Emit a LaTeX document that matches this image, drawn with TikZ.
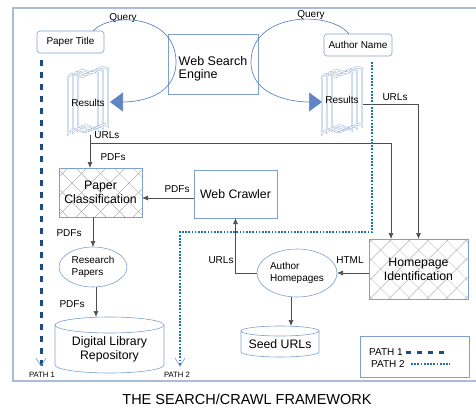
\documentclass[tikz,border=0pt]{standalone}
\usepackage{fontspec}
\setmainfont{Liberation Sans}
\usetikzlibrary{arrows.meta,calc,shapes.geometric}
\definecolor{boxc}{HTML}{7F9FCF}
\definecolor{loopc}{HTML}{5F86C2}
\definecolor{framec}{HTML}{A9BDD6}
\definecolor{linec}{HTML}{4D4D4D}
\definecolor{hatchc}{HTML}{9A9A9A}
\definecolor{path1c}{HTML}{1F4C85}
\definecolor{path2c}{HTML}{1D72AE}
\definecolor{vc}{HTML}{6E9FD6}
\tikzset{
  scrollpage/.style={draw=boxc, line width=0.35pt, double=white, double distance=1.1pt},
  pics/scroll/.style={code={
    \foreach \dx/\dy in {-5/2,0/0,5/-2}{
      \begin{scope}[shift={(\dx,\dy)}]
      \draw[scrollpage] (-15,-26) .. controls (-10,-34) and (-3,-22) .. (3,-28)
        .. controls (7,-32) and (11,-33) .. (15,-30) -- (15,27)
        .. controls (10,21) and (4,33) .. (-2,28)
        .. controls (-6,25) and (-11,26) .. (-15,31) -- cycle;
      \end{scope}
    }}}
}
\begin{document}
\begin{tikzpicture}[x=1pt,y=-1pt,
  every node/.style={inner sep=0pt, outer sep=0pt},
  lbl/.style={font=\fontsize{10}{12}\selectfont},
  big/.style={font=\fontsize{12.3}{14}\selectfont},
  rbox/.style={draw=boxc, rounded corners=3pt, line width=0.6pt, font=\fontsize{10}{12}\selectfont},
  sbox/.style={draw=boxc, line width=0.6pt},
  hatched/.style={draw=boxc, line width=0.6pt, path picture={
     \foreach \k in {-7,...,7}{
       \draw[hatchc, line width=0.35pt] ($(path picture bounding box.center)+(\k*19-80,-80)$) -- ++(160,160);
       \draw[hatchc, line width=0.35pt] ($(path picture bounding box.center)+(\k*19-80,80)$) -- ++(160,-160);
     }}},
  conn/.style={draw=linec, line width=0.7pt},
  arr/.style={conn, -{Latex[length=6pt,width=5pt]}},
  loop/.style={draw=loopc, line width=0.7pt, -{Triangle[length=13pt,width=19pt]}},
  path1/.style={draw=path1c, line width=3pt, dash pattern=on 6pt off 6pt},
  path2/.style={draw=path2c, line width=2.8pt, dash pattern=on 1.7pt off 1.5pt},
  vtip/.style={draw=vc, line width=0.6pt}
]
\useasboundingbox (0,0) rectangle (476,407);
% frame
\draw[framec, line width=1.2pt] (476,8) -- (13,8) -- (13,381) -- (476,381);

% boxes
\node[rbox, minimum width=67, minimum height=22] (ptitle) at (70.5,42) {Paper Title};
\node[sbox, minimum width=90, minimum height=60] (wse) at (213,64) {};
\node[font=\fontsize{12.5}{13.5}\selectfont, align=left] (wsetxt) at (213,69) {Web Search\\Engine};
\node[rbox, minimum width=68, minimum height=22] (aname) at (358,45) {Author Name};

\node[lbl] (q1) at (123,18) {Query};
\node[lbl] (q2) at (311,15) {Query};

\pic at (88,101) {scroll};
\pic at (342,101) {scroll};
\node[lbl] (res1) at (88,103) {Results};
\node[lbl] (res2) at (342,100) {Results};

% query loops
\coordinate (l1s) at ($(ptitle.north)+(22.5,0)$);
\coordinate (l1e) at (110,102);
\coordinate (l2s) at ($(aname.north)+(-9,0)$);
\coordinate (l2e) at (322,102);
\draw[loop] (l1s) .. controls (110,12) and (176,14) .. (176,62) .. controls (176,96) and (140,102) .. (l1e);
\draw[loop] (l2s) .. controls (330,10) and (251,12) .. (251,62) .. controls (251,96) and (292,102) .. (l2e);

\node[hatched, big, align=center, minimum width=83, minimum height=49] (pclass) at (100.5,192.5) {Paper\\Classification};
\node[sbox, big, minimum width=83, minimum height=48] (crawler) at (235.5,194) {Web Crawler};
\node[ellipse, draw=boxc, line width=0.6pt, minimum width=68, minimum height=40, align=left, font=\fontsize{10}{12}\selectfont] (rpap) at (93,267) {Research\\Papers};

% digital library cylinder
\node[big, align=center] (dlr) at (109.5,349) {Digital Library\\Repository};
\draw[boxc, line width=0.6pt] (55,325) -- (55,365) arc[start angle=180, end angle=0, x radius=54.5, y radius=8] -- (164,325);
\draw[boxc, line width=0.6pt] (109.5,325) ellipse[x radius=54.5, y radius=8];
\coordinate (dlrtop) at (96,317);

\node[ellipse, draw=boxc, line width=0.6pt, minimum width=80, minimum height=48, align=left, font=\fontsize{10}{11.5}\selectfont] (ahome) at (297,273) {Author\\Homepages};
\node[hatched, big, align=center, minimum width=99, minimum height=60] (hid) at (418.5,269) {Homepage\\Identification};

% seed urls cylinder
\node[big] (seed) at (280,344) {Seed URLs};
\draw[boxc, line width=0.6pt] (241,331) -- (241,352) arc[start angle=180, end angle=0, x radius=39, y radius=5] -- (319,331);
\draw[boxc, line width=0.6pt] (280,331) ellipse[x radius=39, y radius=5];
\coordinate (seedtop) at (291,326);

% connectors
\coordinate (res1bot) at (90,135);
\coordinate (urlsplit) at (90,143);
\coordinate (hidin) at ($(hid.north)+(-27.5,0)$);
\coordinate (res2r) at (363,104);
\draw[arr] (res1bot) -- (res1bot |- pclass.north);
\draw[arr] (urlsplit) -| (hidin);
\draw[arr] (res2r) -| (hid.north);
\coordinate (crawlout) at ($(crawler.west)+(0,4)$);
\draw[arr] (crawlout) -- (crawlout -| pclass.east);
\draw[arr] (pclass.south -| rpap.north) -- (rpap.north);
\draw[arr] ($(rpap.south)+(3,0)$) -- (dlrtop);
\draw[arr] (ahome.west) -| (crawler.south);
\draw[arr] (hid.west |- ahome.east) -- (ahome.east);
\draw[arr] ($(ahome.south)+(-6,0)$) -- (seedtop);

% connector labels
\node[lbl] (u1) at (107,135) {URLs};
\node[lbl] (d1) at (113,157) {PDFs};
\node[lbl] (d2) at (177,189) {PDFs};
\node[lbl] (d3) at (69,233) {PDFs};
\node[lbl] (d4) at (72,304) {PDFs};
\node[lbl] (u2) at (221,260) {URLs};
\node[lbl] (h1) at (350,260) {HTML};
\node[lbl] (u3) at (395,97) {URLs};

% paths
\coordinate (p1s) at (41,60);
\coordinate (p1e) at (41,366);
\draw[path1] (p1s) -- (p1e);
\draw[vtip] (36,358) -- (p1e) -- (46,358);
\coordinate (p2s) at ($(aname.south)+(14,6)$);
\coordinate (p2c1) at (372,232);
\coordinate (p2c2) at (180,232);
\coordinate (p2e) at (180,366);
\draw[path2] (p2s) -- (p2c1) -- (p2c2) -- (p2e);
\draw[vtip] (175,358) -- (p2e) -- (185,358);
\node[font=\fontsize{7.7}{9}\selectfont] (pl1) at (42,375) {PATH 1};
\node[font=\fontsize{7.7}{9}\selectfont] (pl2) at (177,375) {PATH 2};

% legend
\node[sbox, minimum width=109, minimum height=41] (legend) at (414.5,356.5) {};
\node[lbl] (lg1) at (386,352) {PATH 1};
\node[lbl] (lg2) at (388,364) {PATH 2};
\coordinate (lg1a) at (406,352);
\coordinate (lg1b) at (449,352);
\coordinate (lg2a) at (411,364);
\coordinate (lg2b) at (450,364);
\draw[draw=path1c, line width=3pt, dash pattern=on 5pt off 6pt] (lg1a) -- (lg1b);
\draw[path2] (lg2a) -- (lg2b);

\node[font=\fontsize{14.5}{17}\selectfont] (title) at (247,399) {THE SEARCH/CRAWL FRAMEWORK};
\end{tikzpicture}
\end{document}
